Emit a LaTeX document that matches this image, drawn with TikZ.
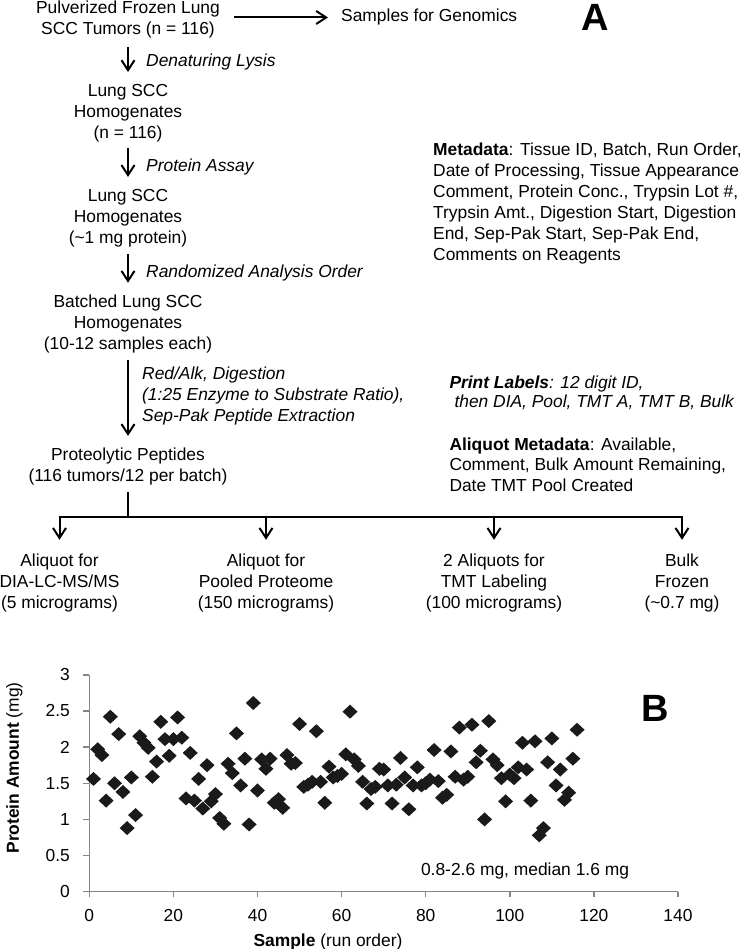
\documentclass[tikz,border=0pt]{standalone}
\usepackage{fontspec}
\setmainfont{Liberation Sans}
\usetikzlibrary{arrows.meta}
\definecolor{axisgray}{RGB}{134,134,134}
\definecolor{markblack}{RGB}{26,26,26}

\begin{document}
\begin{tikzpicture}[x=1pt,y=-1pt,
  every node/.style={font=\fontsize{17.4}{21}\selectfont, inner sep=0pt},
  box/.style={align=center},
  note/.style={align=left, anchor=north west},
  treat/.style={font=\fontsize{17.4}{21}\selectfont\itshape, align=left, anchor=west},
  panel/.style={font=\fontsize{38}{38}\selectfont\bfseries},
  arr/.style={-{Straight Barb[length=10pt,width=13pt]}, line width=2pt},
  axis/.style={draw=axisgray, line width=1.4pt}]
  \useasboundingbox (0,0) rectangle (743,949);

  % workflow
  \node[box] (tumors) at (128,19.5) {Pulverized Frozen Lung\\SCC Tumors (n = 116)};
  \node[anchor=west] (genomics) at (341,17.5) {Samples for Genomics};
  \node[panel] (panelA) at (595,17) {A};
  \node[box] (homog) at (128,112.8) {Lung SCC\\Homogenates\\(n = 116)};
  \node[box] (homogmg) at (128,218) {Lung SCC\\Homogenates\\(\textasciitilde1 mg protein)};
  \node[box] (batched) at (128,323.8) {Batched Lung SCC\\Homogenates\\(10-12 samples each)};
  \node[box] (peptides) at (128,466.2) {Proteolytic Peptides\\(116 tumors/12 per batch)};

  \node[treat] (lysis) at (146,62.5) {Denaturing Lysis};
  \node[treat] (assay) at (146,167.5) {Protein Assay};
  \node[treat] (random) at (146,273.5) {Randomized Analysis Order};
  \node[treat] (digest) at (142,395.7) {Red/Alk, Digestion\\(1:25 Enzyme to Substrate Ratio),\\Sep-Pak Peptide Extraction};

  \draw[arr] (genomics.west -| tumors.east) -- (genomics.west)
    [shorten <=14pt, shorten >=13pt];
  \draw[arr, shorten <=9pt, shorten >=11.7pt] (tumors.south) -- (homog.north);
  \draw[arr, shorten <=6pt, shorten >=12pt] (homog.south) -- (homogmg.north);
  \draw[arr, shorten <=7pt, shorten >=11.7pt] (homogmg.south) -- (batched.north);
  \draw[arr, shorten <=7pt, shorten >=11.5pt] (batched.south) -- (peptides.north);

  % metadata notes
  \node[note] (meta) at (433,142.8) {\textbf{Metadata}: Tissue ID, Batch, Run Order,\\
    Date of Processing, Tissue Appearance\\
    Comment, Protein Conc., Trypsin Lot \#,\\
    Trypsin Amt., Digestion Start, Digestion\\
    End, Sep-Pak Start, Sep-Pak End,\\
    Comments on Reagents};
  \node[note, font=\fontsize{17.4}{19}\selectfont\itshape] (labels) at (449.3,375.2)
    {\textbf{Print Labels}: 12 digit ID,\\ \hspace*{5pt}then DIA, Pool, TMT A, TMT B, Bulk};
  \node[note, font=\fontsize{17.4}{20.5}\selectfont] (alimeta) at (449.3,437.5)
    {\textbf{Aliquot Metadata}: Available,\\Comment, Bulk Amount Remaining,\\Date TMT Pool Created};

  % aliquots
  \node[box] (dia) at (59.5,582.8) {Aliquot for\\DIA-LC-MS/MS\\(5 micrograms)};
  \node[box] (pool) at (266,582.8) {Aliquot for\\Pooled Proteome\\(150 micrograms)};
  \node[box] (tmt) at (494,582.8) {2 Aliquots for\\TMT Labeling\\(100 micrograms)};
  \node[box] (bulk) at (682,582.8) {Bulk\\Frozen\\(\textasciitilde0.7 mg)};

  \coordinate (split) at (128,517);
  \draw[line width=2pt, shorten <=7pt] (peptides.south) -- (split);
  \draw[line width=2pt, line cap=rect] (dia.north |- split) -- (bulk.north |- split);
  \foreach \n in {dia,pool,tmt,bulk}
    \draw[arr, shorten >=13.7pt] (\n.north |- split) -- (\n.north);

  % panel B: protein amount per sample
  \node[panel] (panelB) at (655,708) {B};
  \node[rotate=90] (ylabel) at (14.5,768) {\textbf{Protein Amount} (mg)};
  \node (xlabel) at (328,941.5) {\textbf{Sample} (run order)};
  \node (range) at (525,871) {0.8-2.6 mg, median 1.6 mg};

  \begin{scope}[shift={(89.3pt,-891.7pt)}, x=4.205pt, y=72.3pt]
    \draw[axis] (0,3) -- (0,0) -- (140,0);
    \foreach \v in {0,0.5,1,1.5,2,2.5,3} {
      \draw[axis] (0,\v) -- ++(-6pt,0);
      \node[anchor=east] at ([xshift=-19.3pt]0,\v) {\v};
    }
    \foreach \v in {0,20,...,140} {
      \draw[axis] (\v,0) -- ++(0,-5pt);
      \node[anchor=north] at ([yshift=-17pt]\v,0) {\v};
    }
    \foreach \y [count=\x] in {1.56,1.97,1.89,1.26,2.42,1.50,2.18,1.38,0.88,1.58,
        1.06,2.15,2.06,1.99,1.59,1.80,2.35,2.11,1.88,2.11,
        2.41,2.13,1.29,1.92,1.26,1.56,1.15,1.75,1.25,1.35,
        1.02,0.94,1.77,1.64,2.19,1.47,1.84,0.93,2.61,1.40,
        1.83,1.70,1.84,1.23,1.28,1.16,1.89,1.77,1.78,2.32,
        1.45,1.48,1.52,2.22,1.52,1.23,1.73,1.58,1.60,1.63,
        1.90,2.49,1.83,1.74,1.52,1.22,1.42,1.45,1.70,1.69,
        1.47,1.22,1.48,1.85,1.58,1.14,1.47,1.72,1.47,1.50,
        1.55,1.96,1.53,1.30,1.34,1.94,1.59,2.27,1.55,1.59,
        2.31,1.79,1.95,1.00,2.36,1.83,1.75,1.57,1.25,1.62,
        1.57,1.72,2.06,1.69,1.26,2.08,0.78,0.88,1.79,2.12,
        1.47,1.69,1.27,1.37,1.84,2.24}
      \fill[markblack] (\x,\y) +(-7.5pt,0) -- +(0,7pt) -- +(7.5pt,0) -- +(0,-7pt) -- cycle;
  \end{scope}
\end{tikzpicture}
\end{document}
